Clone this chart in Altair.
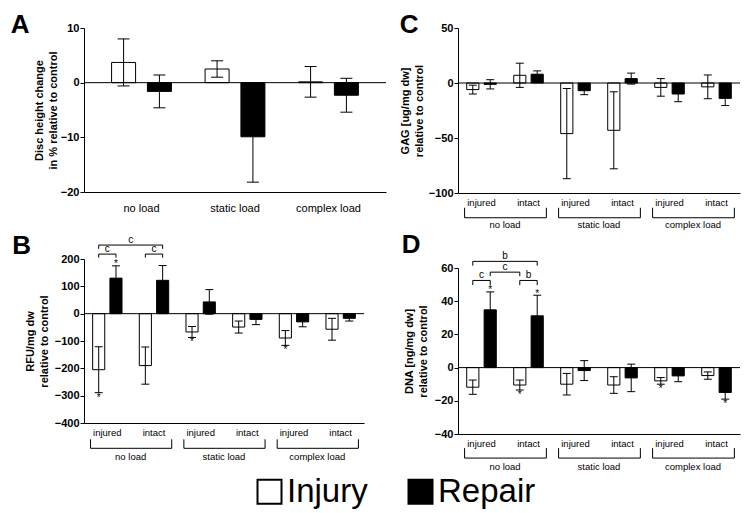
import altair as alt
import pandas as pd

FONT = "Liberation Sans"

series = ["Injury", "Repair"]
loads = ["no load", "static load", "complex load"]
sites = ["injured", "intact"]

# A: disc height change in % relative to control (one pair per load)
a_injury = [3.7, 2.5, 0.15]
a_injury_sd = [4.3, 1.5, 2.8]
a_repair = [-1.6, -9.9, -2.3]
a_repair_sd = [3.0, 8.3, 3.1]

# B/C/D order: no load injured, no load intact, static injured, static intact, complex injured, complex intact
b_injury = [-205, -190, -67, -49, -89, -57]
b_injury_sd = [84, 68, 20, 22, 27, 40]
b_repair = [130, 122, 43, -21, -30, -17]
b_repair_sd = [45, 54, 45, 19, 18, 10]

c_injury = [-6, 7, -46, -43, -4, -3.5]
c_injury_sd = [4, 11, 41, 35, 8, 10.8]
c_repair = [-1.2, 8, -7, 4, -10, -14]
c_repair_sd = [4.2, 3, 3.6, 5, 7, 6.5]

d_injury = [-11.8, -10.5, -10, -10.5, -8, -4.8]
d_injury_sd = [4.3, 3, 6.5, 5, 2, 2.2]
d_repair = [34.8, 31.2, -1.8, -6.2, -5, -15]
d_repair_sd = [10.8, 12.4, 6, 8.3, 3.5, 4]

# asterisks: (subgroup index, series, above/below the error bar)
b_stars = [(0, "Repair", "up"), (0, "Injury", "down"), (2, "Injury", "down"), (4, "Injury", "down")]
d_stars = [(0, "Repair", "up"), (1, "Repair", "up"), (1, "Injury", "down"),
           (4, "Injury", "down"), (5, "Repair", "down")]

# significance brackets: (from subgroup, from series, to subgroup, to series, letter, level)
b_sig = [(0, "Injury", 0, "Repair", "c", 1), (1, "Injury", 1, "Repair", "c", 1),
         (0, "Injury", 1, "Repair", "c", 2)]
d_sig = [(0, "Injury", 0, "Repair", "c", 1), (1, "Injury", 1, "Repair", "b", 1),
         (0, "Repair", 1, "Injury", "c", 2), (0, "Injury", 1, "Repair", "b", 3)]

sub_keys = [f"{l}|{s}" for l in loads for s in sites]

fill_enc = alt.Fill(
    "series:N",
    scale=alt.Scale(domain=series, range=["white", "black"]),
    legend=alt.Legend(title=None, orient="none", legendX=169, legendY=447, direction="horizontal",
                      symbolType="square", symbolSize=576, symbolStrokeColor="black",
                      symbolStrokeWidth=2, labelFontSize=33, labelColor="black",
                      labelOffset=1, columnPadding=36, padding=0),
)


def make_df(keys, inj, inj_sd, rep, rep_sd):
    rows = []
    for k, m, s in zip(keys, inj, inj_sd):
        rows.append({"sub": k, "series": "Injury", "mean": m, "lo": m - s, "hi": m + s})
    for k, m, s in zip(keys, rep, rep_sd):
        rows.append({"sub": k, "series": "Repair", "mean": m, "lo": m - s, "hi": m + s})
    return pd.DataFrame(rows)


def panel(letter, keys, df, ytitle, ydomain, yticks, w, h, o):
    pi, po = o["pi"], o["po"]
    den = len(series) - pi + 2 * po
    cent = {s: (po + (1 - pi) / 2 + i) / den for i, s in enumerate(series)}

    x_scale = alt.Scale(type="band", domain=keys, paddingInner=0, paddingOuter=o["outer"])
    x_axis = alt.Axis(title=None, labelAngle=0, ticks=False, domainColor="black",
                      labelFontSize=o["xfont"], labelPadding=o["xpad"], labelColor="black",
                      labelExpr=o["expr"])
    y_scale = alt.Scale(domain=ydomain, nice=False)
    y_axis = alt.Axis(title=ytitle, values=yticks, grid=False, tickSize=4, tickColor="black",
                      domainColor="black", labelFontWeight="bold", labelFontSize=11,
                      labelPadding=1, labelColor="black", titleFontWeight="bold",
                      titleFontSize=11, titleLineHeight=13.5, titlePadding=o["tpad"],
                      titleColor="black")

    def X(bp=None, field="sub"):
        if bp is None:
            return alt.X(f"{field}:N", scale=x_scale, axis=x_axis)
        return alt.X(f"{field}:N", scale=x_scale, axis=x_axis, bandPosition=bp)

    def Y(field):
        return alt.Y(f"{field}:Q", scale=y_scale, axis=y_axis)

    base = alt.Chart(df)
    layers = [
        base.mark_bar(stroke="black", strokeWidth=1).encode(
            x=X(),
            xOffset=alt.XOffset("series:N", scale=alt.Scale(type="band", domain=series,
                                                            paddingInner=pi, paddingOuter=po)),
            y=Y("mean"), y2=alt.datum(0), fill=fill_enc,
        ),
        alt.Chart(pd.DataFrame({"zero": [0]})).mark_rule(color="black", strokeWidth=1).encode(y=Y("zero")),
    ]
    cap = "M-1,0L1,0"
    for s in series:
        part = base.transform_filter(alt.datum.series == s)
        layers.append(part.mark_rule(color="black", strokeWidth=1).encode(
            x=X(cent[s]), y=Y("lo"), y2="hi"))
        layers.append(part.transform_fold(["lo", "hi"], as_=["end", "v"]).mark_point(
            shape=cap, size=o["cap"] ** 2, filled=False, stroke="black", strokeWidth=1,
            opacity=1).encode(x=X(cent[s]), y=Y("v")))

    # asterisks next to the error bar ends
    for i, s, d in o.get("stars", []):
        row = df[(df["sub"] == keys[i]) & (df.series == s)].iloc[0]
        val = row.hi if d == "up" else row.lo
        star = pd.DataFrame({"sub": [keys[i]], "v": [val]})
        layers.append(alt.Chart(star).mark_text(
            text="*", fontSize=10, color="black", baseline="alphabetic" if d == "up" else "top",
            dy=1.5 if d == "up" else 0).encode(x=X(cent[s]), y=Y("v")))

    # significance brackets above the bars
    for i, s1, j, s2, lab, lev in o.get("sig", []):
        top, leg = o["levels"][lev]
        br = pd.DataFrame({"a": [keys[i]], "b": [keys[j]], "top": [top], "leg": [leg], "t": [lab]})
        bc = alt.Chart(br)
        layers.append(bc.mark_rule(color="black").encode(
            x=X(cent[s1], "a"), x2=alt.X2("b:N", bandPosition=cent[s2]), y=Y("top")))
        layers.append(bc.mark_rule(color="black").encode(x=X(cent[s1], "a"), y=Y("leg"), y2="top"))
        layers.append(bc.mark_rule(color="black").encode(x=X(cent[s2], "b"), y=Y("leg"), y2="top"))
        mid = (cent[s1] + cent[s2] + (j - i)) / 2
        layers.append(bc.mark_text(fontSize=10, color="black", baseline="alphabetic", dy=-2).encode(
            x=X(mid - (j - i), "b"), y=Y("top"), text="t:N"))

    # group brackets under the subgroup labels
    if "groups" in o:
        line, legtop, labpos = o["groups"]
        gb = pd.DataFrame({"a": keys[0::2], "b": keys[1::2], "line": [line] * 3,
                           "legtop": [legtop] * 3, "lab": [labpos] * 3, "name": loads})
        gc = alt.Chart(gb)
        layers.append(gc.mark_rule(color="black").encode(
            x=X(0.14, "a"), x2=alt.X2("b:N", bandPosition=0.88), y=Y("line")))
        layers.append(gc.mark_rule(color="black").encode(x=X(0.14, "a"), y=Y("line"), y2="legtop"))
        layers.append(gc.mark_rule(color="black").encode(x=X(0.88, "b"), y=Y("line"), y2="legtop"))
        layers.append(gc.mark_text(fontSize=9.5, color="black", baseline="middle").encode(
            x=X(1.0, "a"), y=Y("lab"), text="name:N"))

    return alt.layer(*layers).properties(
        width=w, height=h,
        title=alt.TitleParams(letter, anchor="start", fontSize=26, fontWeight="bold", color="black",
                              offset=o["toff"], dx=o["dx"]),
    )


sub_expr = "split(datum.label, '|')[1]"
common = dict(pi=0.3, po=0.5, outer=0, xfont=9.5, xpad=4, expr=sub_expr, cap=8)

chart_a = panel("A", loads, make_df(loads, a_injury, a_injury_sd, a_repair, a_repair_sd),
                ["Disc height change", "in % relative to control"], [-20, 10], [-20, -10, 0, 10],
                302, 164,
                dict(pi=0.33, po=0.47, outer=0.115, xfont=11, xpad=10, expr="datum.label", cap=12,
                     tpad=2, dx=-23, toff=-16))

chart_b = panel("B", sub_keys, make_df(sub_keys, b_injury, b_injury_sd, b_repair, b_repair_sd),
                ["RFU/mg dw", "relative to control"], [-400, 200], list(range(-400, 201, 100)),
                280, 164,
                dict(common, tpad=5, dx=-12.5, toff=-24, stars=b_stars, sig=b_sig,
                     levels={1: (218, 205), 2: (251, 237)}, groups=(-492.6, -459.6, -523)))

chart_c = panel("C", sub_keys, make_df(sub_keys, c_injury, c_injury_sd, c_repair, c_repair_sd),
                ["GAG [ug/mg dw]", "relative to control"], [-100, 50], [-100, -50, 0, 50],
                282, 165,
                dict(common, tpad=4, dx=0, toff=-16, groups=(-122.5, -113.4, -129.1)))

chart_d = panel("D", sub_keys, make_df(sub_keys, d_injury, d_injury_sd, d_repair, d_repair_sd),
                ["DNA [ng/mg dw]", "relative to control"], [-40, 60], list(range(-40, 61, 20)),
                282, 166,
                dict(common, tpad=6, dx=-2, toff=-7, stars=d_stars, sig=d_sig,
                     levels={1: (52.5, 49.7), 2: (57.5, 55.1), 3: (64.0, 61.4)},
                     groups=(-54.5, -48.5, -59.6)))

left = alt.concat(chart_a, chart_b, columns=1, align="none", spacing=20).resolve_scale(
    xOffset="independent")
right = alt.concat(chart_c, chart_d, columns=1, align="none", spacing=2).resolve_scale(
    xOffset="independent")

chart = alt.hconcat(left, right, spacing=12).resolve_scale(
    fill="shared", xOffset="independent"
).properties(
    padding={"left": 2, "top": 4, "right": 0, "bottom": 0}
).configure(font=FONT).configure_view(stroke=None)

chart.save("out.html", embed_options={"renderer": "svg", "actions": False})
